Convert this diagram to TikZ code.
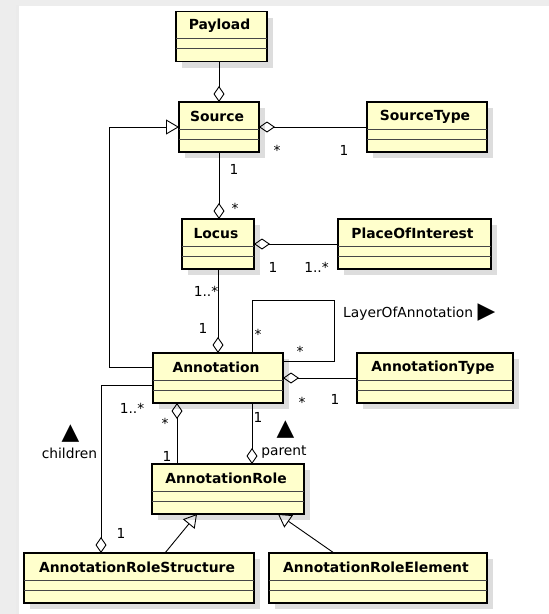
\documentclass[tikz,border=0pt]{standalone}
\usepackage{fontspec}
\setmainfont{DejaVu Sans}
\usepackage{tikz}
\usetikzlibrary{arrows.meta,shadows}

\definecolor{umlfill}{RGB}{255,255,204}
\definecolor{umlshadow}{RGB}{221,221,221}
\definecolor{bggray}{RGB}{237,237,237}
\definecolor{sepgray}{RGB}{70,70,70}

\begin{document}
\begin{tikzpicture}[
  x=1pt, y=-1pt,
  cls/.style = {
    draw,
    rectangle,
    line width = 1.6pt,
    fill = umlfill,
    minimum height = 50pt,
    inner sep = 0pt,
    outer sep = 0pt,
    general shadow = {fill=umlshadow, shadow xshift=6pt, shadow yshift=-6pt},
  },
  clsname/.style = {font=\fontsize{13.9}{16}\selectfont\bfseries, inner sep=0pt},
  mult/.style = {font=\fontsize{13.8}{16}\selectfont, inner sep=0pt, anchor=base},
  dir/.style = {font=\fontsize{23}{24}\selectfont, inner sep=0pt},
  sep/.style = {line width=1pt, draw=sepgray},
  agg/.style = {{Diamond[open,length=16pt,width=11pt]}-, line width=0.9pt},
  aggend/.style = {-{Diamond[open,length=16pt,width=11pt]}, line width=0.9pt},
  gen/.style = {-{Triangle[open,length=13pt,width=15pt]}, line width=0.9pt},
  assoc/.style = {line width=0.9pt},
]

  % page
  \fill[bggray] (0,0) rectangle (549,614);
  \fill[black!8] (16,5) rectangle (19,614);
  \fill[white] (19,6) rectangle (549,614);
  \useasboundingbox (0,0) rectangle (549,614);

  % classes
  \node[cls, minimum width=91pt] (payload) at (221.5,36.5) {};
  \node[cls, minimum width=80pt] (source) at (219,127) {};
  \node[cls, minimum width=120pt] (sourcetype) at (427,127) {};
  \node[cls, minimum width=72pt] (locus) at (218,244) {};
  \node[cls, minimum width=153pt] (poi) at (414.5,244) {};
  \node[cls, minimum width=130pt] (annotation) at (218,378) {};
  \node[cls, minimum width=156pt] (annotationtype) at (435,378) {};
  \node[cls, minimum width=152pt] (annotationrole) at (228,489) {};
  \node[cls, minimum width=230pt] (ars) at (139,578) {};
  \node[cls, minimum width=218pt] (are) at (378,578) {};

  \foreach \n/\t in {payload/Payload, source/Source, sourcetype/SourceType,
      locus/Locus, poi/PlaceOfInterest, annotation/Annotation,
      annotationtype/AnnotationType, annotationrole/AnnotationRole,
      ars/AnnotationRoleStructure, are/AnnotationRoleElement} {
    \node[clsname] (\n-name) at ([xshift=-2pt,yshift=-14.5pt]\n.north) {\t};
    \draw[sep] ([yshift=-27pt]\n.north west) -- ([yshift=-27pt]\n.north east);
    \draw[sep] ([yshift=-37pt]\n.north west) -- ([yshift=-37pt]\n.north east);
  }

  % connectors
  \draw[aggend] (payload.south -| source.north) -- (source.north);
  \draw[agg] (source.east) -- (sourcetype.west);
  \draw[gen] ([yshift=11pt]annotation.west) -- ++(-44,0) |- (source.west);
  \draw[aggend] (source.south) -- (source.south |- locus.north);
  \draw[agg] (locus.east) -- (poi.west);
  \draw[aggend] (locus.south) -- (annotation.north);
  \draw[assoc] ([xshift=34pt]annotation.north) -- ++(0,-53) -- ++(82,0)
    |- ([yshift=17pt]annotation.east);
  \draw[agg] (annotation.east) -- (annotationtype.west);
  \draw[aggend] ([yshift=-7pt]annotation.west) -| ([xshift=-38pt]ars.north);
  \draw[agg] ([xshift=-41pt]annotation.south)
    -- ([xshift=-41pt]annotation.south |- annotationrole.north);
  \draw[aggend] ([xshift=34pt]annotation.south)
    -- ([xshift=34pt]annotation.south |- annotationrole.north);
  \draw[gen] ([xshift=26pt]ars.north) -- ([xshift=-31pt]annotationrole.south);
  \draw[gen] ([xshift=-44pt]are.north) -- ([xshift=50pt]annotationrole.south);

  % multiplicities and role names
  \node[mult] (m1) at (277,155) {*};
  \node[mult] (m2) at (344,155) {1};
  \node[mult] (m3) at (234,174) {1};
  \node[mult] (m4) at (235,213) {*};
  \node[mult] (m5) at (273,272) {1};
  \node[mult] (m6) at (316.5,272) {1..*};
  \node[mult] (m7) at (206,296) {1..*};
  \node[mult] (m8) at (203,333) {1};
  \node[mult] (m9) at (258,339) {*};
  \node[mult] (m10) at (300,356) {*};
  \node[mult, anchor=base west] (layer) at (343,317) {LayerOfAnnotation};
  \node[dir] (layer-dir) at (486.5,312.5) {▶};
  \node[mult] (m11) at (302,407) {*};
  \node[mult] (m12) at (335,404) {1};
  \node[mult] (m13) at (132,413) {1..*};
  \node[mult] (m14) at (121,538) {1};
  \node[dir] (children-dir) at (70.5,434) {▲};
  \node[mult] (children) at (69.5,458) {children};
  \node[mult] (m15) at (165,428) {*};
  \node[mult] (m16) at (167,461) {1};
  \node[mult] (m17) at (258,422) {1};
  \node[dir] (parent-dir) at (285.5,430) {▲};
  \node[mult] (parent) at (284,455) {parent};
\end{tikzpicture}
\end{document}
